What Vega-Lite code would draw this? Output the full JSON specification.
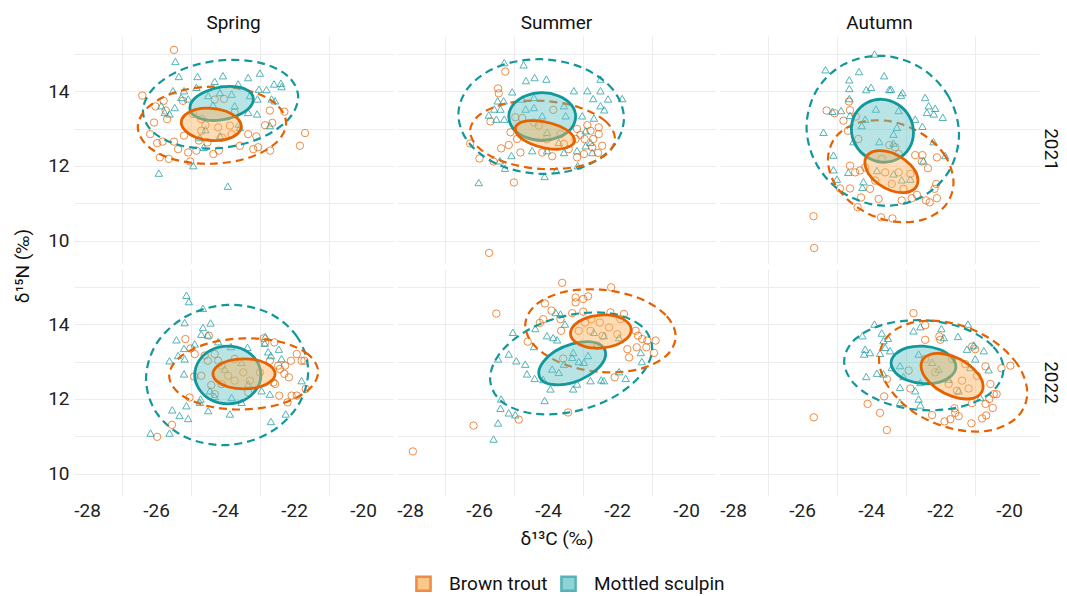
{
"$schema":"https://vega.github.io/schema/vega-lite/v6.json",
"padding":{"left":13,"top":14,"right":2,"bottom":4},
"background":"white",
"data":{"values":[
{"f":"Spring","r":2021,"p":"T","k":"e","o":0,"x":-23.18,"y":13.79},{"f":"Spring","r":2021,"p":"T","k":"e","o":1,"x":-23.3,"y":13.99},{"f":"Spring","r":2021,"p":"T","k":"e","o":2,"x":-23.64,"y":14.11},{"f":"Spring","r":2021,"p":"T","k":"e","o":3,"x":-24.1,"y":14.11},{"f":"Spring","r":2021,"p":"T","k":"e","o":4,"x":-24.56,"y":13.99},{"f":"Spring","r":2021,"p":"T","k":"e","o":5,"x":-24.9,"y":13.79},{"f":"Spring","r":2021,"p":"T","k":"e","o":6,"x":-25.02,"y":13.55},{"f":"Spring","r":2021,"p":"T","k":"e","o":7,"x":-24.9,"y":13.35},{"f":"Spring","r":2021,"p":"T","k":"e","o":8,"x":-24.56,"y":13.23},{"f":"Spring","r":2021,"p":"T","k":"e","o":9,"x":-24.1,"y":13.23},{"f":"Spring","r":2021,"p":"T","k":"e","o":10,"x":-23.64,"y":13.35},{"f":"Spring","r":2021,"p":"T","k":"e","o":11,"x":-23.3,"y":13.55},
{"f":"Spring","r":2021,"p":"B","k":"e","o":0,"x":-23.53,"y":13.06},{"f":"Spring","r":2021,"p":"B","k":"e","o":1,"x":-23.65,"y":13.28},{"f":"Spring","r":2021,"p":"B","k":"e","o":2,"x":-23.97,"y":13.46},{"f":"Spring","r":2021,"p":"B","k":"e","o":3,"x":-24.4,"y":13.54},{"f":"Spring","r":2021,"p":"B","k":"e","o":4,"x":-24.84,"y":13.51},{"f":"Spring","r":2021,"p":"B","k":"e","o":5,"x":-25.15,"y":13.37},{"f":"Spring","r":2021,"p":"B","k":"e","o":6,"x":-25.27,"y":13.16},{"f":"Spring","r":2021,"p":"B","k":"e","o":7,"x":-25.15,"y":12.94},{"f":"Spring","r":2021,"p":"B","k":"e","o":8,"x":-24.84,"y":12.76},{"f":"Spring","r":2021,"p":"B","k":"e","o":9,"x":-24.4,"y":12.68},{"f":"Spring","r":2021,"p":"B","k":"e","o":10,"x":-23.97,"y":12.71},{"f":"Spring","r":2021,"p":"B","k":"e","o":11,"x":-23.65,"y":12.85},
{"f":"Spring","r":2021,"p":"T","k":"d","o":0,"x":-21.88,"y":13.84},{"f":"Spring","r":2021,"p":"T","k":"d","o":1,"x":-22.18,"y":14.4},{"f":"Spring","r":2021,"p":"T","k":"d","o":2,"x":-23.01,"y":14.76},{"f":"Spring","r":2021,"p":"T","k":"d","o":3,"x":-24.13,"y":14.82},{"f":"Spring","r":2021,"p":"T","k":"d","o":4,"x":-25.26,"y":14.57},{"f":"Spring","r":2021,"p":"T","k":"d","o":5,"x":-26.08,"y":14.07},{"f":"Spring","r":2021,"p":"T","k":"d","o":6,"x":-26.38,"y":13.46},{"f":"Spring","r":2021,"p":"T","k":"d","o":7,"x":-26.08,"y":12.9},{"f":"Spring","r":2021,"p":"T","k":"d","o":8,"x":-25.26,"y":12.54},{"f":"Spring","r":2021,"p":"T","k":"d","o":9,"x":-24.13,"y":12.48},{"f":"Spring","r":2021,"p":"T","k":"d","o":10,"x":-23.01,"y":12.73},{"f":"Spring","r":2021,"p":"T","k":"d","o":11,"x":-22.18,"y":13.23},
{"f":"Spring","r":2021,"p":"B","k":"d","o":0,"x":-22.23,"y":13.14},{"f":"Spring","r":2021,"p":"B","k":"d","o":1,"x":-22.52,"y":13.65},{"f":"Spring","r":2021,"p":"B","k":"d","o":2,"x":-23.31,"y":14.01},{"f":"Spring","r":2021,"p":"B","k":"d","o":3,"x":-24.38,"y":14.12},{"f":"Spring","r":2021,"p":"B","k":"d","o":4,"x":-25.46,"y":13.96},{"f":"Spring","r":2021,"p":"B","k":"d","o":5,"x":-26.24,"y":13.56},{"f":"Spring","r":2021,"p":"B","k":"d","o":6,"x":-26.53,"y":13.04},{"f":"Spring","r":2021,"p":"B","k":"d","o":7,"x":-26.24,"y":12.53},{"f":"Spring","r":2021,"p":"B","k":"d","o":8,"x":-25.46,"y":12.17},{"f":"Spring","r":2021,"p":"B","k":"d","o":9,"x":-24.38,"y":12.06},{"f":"Spring","r":2021,"p":"B","k":"d","o":10,"x":-23.31,"y":12.22},{"f":"Spring","r":2021,"p":"B","k":"d","o":11,"x":-22.52,"y":12.62},
{"f":"Summer","r":2021,"p":"T","k":"e","o":0,"x":-23.2,"y":13.32},{"f":"Summer","r":2021,"p":"T","k":"e","o":1,"x":-23.33,"y":13.64},{"f":"Summer","r":2021,"p":"T","k":"e","o":2,"x":-23.69,"y":13.87},{"f":"Summer","r":2021,"p":"T","k":"e","o":3,"x":-24.17,"y":13.96},{"f":"Summer","r":2021,"p":"T","k":"e","o":4,"x":-24.66,"y":13.87},{"f":"Summer","r":2021,"p":"T","k":"e","o":5,"x":-25.01,"y":13.64},{"f":"Summer","r":2021,"p":"T","k":"e","o":6,"x":-25.14,"y":13.32},{"f":"Summer","r":2021,"p":"T","k":"e","o":7,"x":-25.01,"y":13.0},{"f":"Summer","r":2021,"p":"T","k":"e","o":8,"x":-24.66,"y":12.77},{"f":"Summer","r":2021,"p":"T","k":"e","o":9,"x":-24.17,"y":12.68},{"f":"Summer","r":2021,"p":"T","k":"e","o":10,"x":-23.69,"y":12.77},{"f":"Summer","r":2021,"p":"T","k":"e","o":11,"x":-23.33,"y":13.0},
{"f":"Summer","r":2021,"p":"B","k":"e","o":0,"x":-23.23,"y":12.68},{"f":"Summer","r":2021,"p":"B","k":"e","o":1,"x":-23.35,"y":12.88},{"f":"Summer","r":2021,"p":"B","k":"e","o":2,"x":-23.66,"y":13.06},{"f":"Summer","r":2021,"p":"B","k":"e","o":3,"x":-24.09,"y":13.18},{"f":"Summer","r":2021,"p":"B","k":"e","o":4,"x":-24.52,"y":13.21},{"f":"Summer","r":2021,"p":"B","k":"e","o":5,"x":-24.84,"y":13.14},{"f":"Summer","r":2021,"p":"B","k":"e","o":6,"x":-24.95,"y":12.98},{"f":"Summer","r":2021,"p":"B","k":"e","o":7,"x":-24.84,"y":12.79},{"f":"Summer","r":2021,"p":"B","k":"e","o":8,"x":-24.52,"y":12.6},{"f":"Summer","r":2021,"p":"B","k":"e","o":9,"x":-24.09,"y":12.48},{"f":"Summer","r":2021,"p":"B","k":"e","o":10,"x":-23.66,"y":12.45},{"f":"Summer","r":2021,"p":"B","k":"e","o":11,"x":-23.35,"y":12.53},
{"f":"Summer","r":2021,"p":"T","k":"d","o":0,"x":-21.8,"y":13.27},{"f":"Summer","r":2021,"p":"T","k":"d","o":1,"x":-22.12,"y":14.04},{"f":"Summer","r":2021,"p":"T","k":"d","o":2,"x":-23.0,"y":14.62},{"f":"Summer","r":2021,"p":"T","k":"d","o":3,"x":-24.2,"y":14.85},{"f":"Summer","r":2021,"p":"T","k":"d","o":4,"x":-25.4,"y":14.67},{"f":"Summer","r":2021,"p":"T","k":"d","o":5,"x":-26.28,"y":14.13},{"f":"Summer","r":2021,"p":"T","k":"d","o":6,"x":-26.6,"y":13.37},{"f":"Summer","r":2021,"p":"T","k":"d","o":7,"x":-26.28,"y":12.6},{"f":"Summer","r":2021,"p":"T","k":"d","o":8,"x":-25.4,"y":12.02},{"f":"Summer","r":2021,"p":"T","k":"d","o":9,"x":-24.2,"y":11.79},{"f":"Summer","r":2021,"p":"T","k":"d","o":10,"x":-23.0,"y":11.97},{"f":"Summer","r":2021,"p":"T","k":"d","o":11,"x":-22.12,"y":12.51},
{"f":"Summer","r":2021,"p":"B","k":"d","o":0,"x":-22.06,"y":12.73},{"f":"Summer","r":2021,"p":"B","k":"d","o":1,"x":-22.34,"y":13.2},{"f":"Summer","r":2021,"p":"B","k":"d","o":2,"x":-23.11,"y":13.57},{"f":"Summer","r":2021,"p":"B","k":"d","o":3,"x":-24.16,"y":13.74},{"f":"Summer","r":2021,"p":"B","k":"d","o":4,"x":-25.21,"y":13.67},{"f":"Summer","r":2021,"p":"B","k":"d","o":5,"x":-25.98,"y":13.37},{"f":"Summer","r":2021,"p":"B","k":"d","o":6,"x":-26.26,"y":12.93},{"f":"Summer","r":2021,"p":"B","k":"d","o":7,"x":-25.98,"y":12.46},{"f":"Summer","r":2021,"p":"B","k":"d","o":8,"x":-25.21,"y":12.09},{"f":"Summer","r":2021,"p":"B","k":"d","o":9,"x":-24.16,"y":11.92},{"f":"Summer","r":2021,"p":"B","k":"d","o":10,"x":-23.11,"y":11.99},{"f":"Summer","r":2021,"p":"B","k":"d","o":11,"x":-22.34,"y":12.29},
{"f":"Autumn","r":2021,"p":"T","k":"e","o":0,"x":-22.77,"y":12.89},{"f":"Autumn","r":2021,"p":"T","k":"e","o":1,"x":-22.89,"y":13.32},{"f":"Autumn","r":2021,"p":"T","k":"e","o":2,"x":-23.22,"y":13.64},{"f":"Autumn","r":2021,"p":"T","k":"e","o":3,"x":-23.67,"y":13.78},{"f":"Autumn","r":2021,"p":"T","k":"e","o":4,"x":-24.12,"y":13.69},{"f":"Autumn","r":2021,"p":"T","k":"e","o":5,"x":-24.45,"y":13.4},{"f":"Autumn","r":2021,"p":"T","k":"e","o":6,"x":-24.57,"y":12.99},{"f":"Autumn","r":2021,"p":"T","k":"e","o":7,"x":-24.45,"y":12.56},{"f":"Autumn","r":2021,"p":"T","k":"e","o":8,"x":-24.12,"y":12.24},{"f":"Autumn","r":2021,"p":"T","k":"e","o":9,"x":-23.67,"y":12.1},{"f":"Autumn","r":2021,"p":"T","k":"e","o":10,"x":-23.22,"y":12.19},{"f":"Autumn","r":2021,"p":"T","k":"e","o":11,"x":-22.89,"y":12.48},
{"f":"Autumn","r":2021,"p":"B","k":"e","o":0,"x":-22.64,"y":11.61},{"f":"Autumn","r":2021,"p":"B","k":"e","o":1,"x":-22.74,"y":11.9},{"f":"Autumn","r":2021,"p":"B","k":"e","o":2,"x":-23.03,"y":12.17},{"f":"Autumn","r":2021,"p":"B","k":"e","o":3,"x":-23.41,"y":12.36},{"f":"Autumn","r":2021,"p":"B","k":"e","o":4,"x":-23.8,"y":12.41},{"f":"Autumn","r":2021,"p":"B","k":"e","o":5,"x":-24.08,"y":12.31},{"f":"Autumn","r":2021,"p":"B","k":"e","o":6,"x":-24.18,"y":12.09},{"f":"Autumn","r":2021,"p":"B","k":"e","o":7,"x":-24.08,"y":11.8},{"f":"Autumn","r":2021,"p":"B","k":"e","o":8,"x":-23.8,"y":11.53},{"f":"Autumn","r":2021,"p":"B","k":"e","o":9,"x":-23.41,"y":11.34},{"f":"Autumn","r":2021,"p":"B","k":"e","o":10,"x":-23.03,"y":11.29},{"f":"Autumn","r":2021,"p":"B","k":"e","o":11,"x":-22.74,"y":11.39},
{"f":"Autumn","r":2021,"p":"T","k":"d","o":0,"x":-21.45,"y":12.84},{"f":"Autumn","r":2021,"p":"T","k":"d","o":1,"x":-21.75,"y":13.85},{"f":"Autumn","r":2021,"p":"T","k":"d","o":2,"x":-22.56,"y":14.62},{"f":"Autumn","r":2021,"p":"T","k":"d","o":3,"x":-23.66,"y":14.94},{"f":"Autumn","r":2021,"p":"T","k":"d","o":4,"x":-24.77,"y":14.72},{"f":"Autumn","r":2021,"p":"T","k":"d","o":5,"x":-25.57,"y":14.03},{"f":"Autumn","r":2021,"p":"T","k":"d","o":6,"x":-25.87,"y":13.04},{"f":"Autumn","r":2021,"p":"T","k":"d","o":7,"x":-25.57,"y":12.03},{"f":"Autumn","r":2021,"p":"T","k":"d","o":8,"x":-24.77,"y":11.26},{"f":"Autumn","r":2021,"p":"T","k":"d","o":9,"x":-23.66,"y":10.94},{"f":"Autumn","r":2021,"p":"T","k":"d","o":10,"x":-22.56,"y":11.16},{"f":"Autumn","r":2021,"p":"T","k":"d","o":11,"x":-21.75,"y":11.85},
{"f":"Autumn","r":2021,"p":"B","k":"d","o":0,"x":-21.61,"y":11.56},{"f":"Autumn","r":2021,"p":"B","k":"d","o":1,"x":-21.85,"y":12.27},{"f":"Autumn","r":2021,"p":"B","k":"d","o":2,"x":-22.52,"y":12.86},{"f":"Autumn","r":2021,"p":"B","k":"d","o":3,"x":-23.43,"y":13.19},{"f":"Autumn","r":2021,"p":"B","k":"d","o":4,"x":-24.34,"y":13.16},{"f":"Autumn","r":2021,"p":"B","k":"d","o":5,"x":-25.01,"y":12.79},{"f":"Autumn","r":2021,"p":"B","k":"d","o":6,"x":-25.25,"y":12.16},{"f":"Autumn","r":2021,"p":"B","k":"d","o":7,"x":-25.01,"y":11.46},{"f":"Autumn","r":2021,"p":"B","k":"d","o":8,"x":-24.34,"y":10.86},{"f":"Autumn","r":2021,"p":"B","k":"d","o":9,"x":-23.43,"y":10.53},{"f":"Autumn","r":2021,"p":"B","k":"d","o":10,"x":-22.52,"y":10.56},{"f":"Autumn","r":2021,"p":"B","k":"d","o":11,"x":-21.85,"y":10.94},
{"f":"Spring","r":2022,"p":"T","k":"e","o":0,"x":-22.96,"y":12.64},{"f":"Spring","r":2022,"p":"T","k":"e","o":1,"x":-23.09,"y":13.03},{"f":"Spring","r":2022,"p":"T","k":"e","o":2,"x":-23.44,"y":13.31},{"f":"Spring","r":2022,"p":"T","k":"e","o":3,"x":-23.92,"y":13.41},{"f":"Spring","r":2022,"p":"T","k":"e","o":4,"x":-24.4,"y":13.31},{"f":"Spring","r":2022,"p":"T","k":"e","o":5,"x":-24.75,"y":13.03},{"f":"Spring","r":2022,"p":"T","k":"e","o":6,"x":-24.88,"y":12.64},{"f":"Spring","r":2022,"p":"T","k":"e","o":7,"x":-24.75,"y":12.26},{"f":"Spring","r":2022,"p":"T","k":"e","o":8,"x":-24.4,"y":11.97},{"f":"Spring","r":2022,"p":"T","k":"e","o":9,"x":-23.92,"y":11.87},{"f":"Spring","r":2022,"p":"T","k":"e","o":10,"x":-23.44,"y":11.97},{"f":"Spring","r":2022,"p":"T","k":"e","o":11,"x":-23.09,"y":12.26},
{"f":"Spring","r":2022,"p":"B","k":"e","o":0,"x":-22.55,"y":12.67},{"f":"Spring","r":2022,"p":"B","k":"e","o":1,"x":-22.67,"y":12.87},{"f":"Spring","r":2022,"p":"B","k":"e","o":2,"x":-23.0,"y":13.02},{"f":"Spring","r":2022,"p":"B","k":"e","o":3,"x":-23.45,"y":13.07},{"f":"Spring","r":2022,"p":"B","k":"e","o":4,"x":-23.9,"y":13.02},{"f":"Spring","r":2022,"p":"B","k":"e","o":5,"x":-24.23,"y":12.87},{"f":"Spring","r":2022,"p":"B","k":"e","o":6,"x":-24.35,"y":12.67},{"f":"Spring","r":2022,"p":"B","k":"e","o":7,"x":-24.23,"y":12.47},{"f":"Spring","r":2022,"p":"B","k":"e","o":8,"x":-23.9,"y":12.32},{"f":"Spring","r":2022,"p":"B","k":"e","o":9,"x":-23.45,"y":12.27},{"f":"Spring","r":2022,"p":"B","k":"e","o":10,"x":-23.0,"y":12.32},{"f":"Spring","r":2022,"p":"B","k":"e","o":11,"x":-22.67,"y":12.47},
{"f":"Spring","r":2022,"p":"T","k":"d","o":0,"x":-21.59,"y":12.74},{"f":"Spring","r":2022,"p":"T","k":"d","o":1,"x":-21.91,"y":13.66},{"f":"Spring","r":2022,"p":"T","k":"d","o":2,"x":-22.77,"y":14.31},{"f":"Spring","r":2022,"p":"T","k":"d","o":3,"x":-23.94,"y":14.51},{"f":"Spring","r":2022,"p":"T","k":"d","o":4,"x":-25.12,"y":14.21},{"f":"Spring","r":2022,"p":"T","k":"d","o":5,"x":-25.98,"y":13.49},{"f":"Spring","r":2022,"p":"T","k":"d","o":6,"x":-26.29,"y":12.54},{"f":"Spring","r":2022,"p":"T","k":"d","o":7,"x":-25.98,"y":11.62},{"f":"Spring","r":2022,"p":"T","k":"d","o":8,"x":-25.12,"y":10.97},{"f":"Spring","r":2022,"p":"T","k":"d","o":9,"x":-23.94,"y":10.77},{"f":"Spring","r":2022,"p":"T","k":"d","o":10,"x":-22.77,"y":11.07},{"f":"Spring","r":2022,"p":"T","k":"d","o":11,"x":-21.91,"y":11.79},
{"f":"Spring","r":2022,"p":"B","k":"d","o":0,"x":-21.3,"y":12.72},{"f":"Spring","r":2022,"p":"B","k":"d","o":1,"x":-21.59,"y":13.19},{"f":"Spring","r":2022,"p":"B","k":"d","o":2,"x":-22.38,"y":13.52},{"f":"Spring","r":2022,"p":"B","k":"d","o":3,"x":-23.46,"y":13.62},{"f":"Spring","r":2022,"p":"B","k":"d","o":4,"x":-24.54,"y":13.47},{"f":"Spring","r":2022,"p":"B","k":"d","o":5,"x":-25.33,"y":13.1},{"f":"Spring","r":2022,"p":"B","k":"d","o":6,"x":-25.62,"y":12.62},{"f":"Spring","r":2022,"p":"B","k":"d","o":7,"x":-25.33,"y":12.15},{"f":"Spring","r":2022,"p":"B","k":"d","o":8,"x":-24.54,"y":11.82},{"f":"Spring","r":2022,"p":"B","k":"d","o":9,"x":-23.46,"y":11.72},{"f":"Spring","r":2022,"p":"B","k":"d","o":10,"x":-22.38,"y":11.87},{"f":"Spring","r":2022,"p":"B","k":"d","o":11,"x":-21.59,"y":12.24},
{"f":"Summer","r":2022,"p":"T","k":"e","o":0,"x":-22.33,"y":13.2},{"f":"Summer","r":2022,"p":"T","k":"e","o":1,"x":-22.46,"y":13.43},{"f":"Summer","r":2022,"p":"T","k":"e","o":2,"x":-22.82,"y":13.53},{"f":"Summer","r":2022,"p":"T","k":"e","o":3,"x":-23.3,"y":13.47},{"f":"Summer","r":2022,"p":"T","k":"e","o":4,"x":-23.79,"y":13.28},{"f":"Summer","r":2022,"p":"T","k":"e","o":5,"x":-24.14,"y":12.99},{"f":"Summer","r":2022,"p":"T","k":"e","o":6,"x":-24.27,"y":12.7},{"f":"Summer","r":2022,"p":"T","k":"e","o":7,"x":-24.14,"y":12.47},{"f":"Summer","r":2022,"p":"T","k":"e","o":8,"x":-23.79,"y":12.38},{"f":"Summer","r":2022,"p":"T","k":"e","o":9,"x":-23.3,"y":12.43},{"f":"Summer","r":2022,"p":"T","k":"e","o":10,"x":-22.82,"y":12.63},{"f":"Summer","r":2022,"p":"T","k":"e","o":11,"x":-22.46,"y":12.91},
{"f":"Summer","r":2022,"p":"B","k":"e","o":0,"x":-21.59,"y":13.85},{"f":"Summer","r":2022,"p":"B","k":"e","o":1,"x":-21.71,"y":14.06},{"f":"Summer","r":2022,"p":"B","k":"e","o":2,"x":-22.03,"y":14.21},{"f":"Summer","r":2022,"p":"B","k":"e","o":3,"x":-22.47,"y":14.24},{"f":"Summer","r":2022,"p":"B","k":"e","o":4,"x":-22.91,"y":14.16},{"f":"Summer","r":2022,"p":"B","k":"e","o":5,"x":-23.23,"y":13.98},{"f":"Summer","r":2022,"p":"B","k":"e","o":6,"x":-23.35,"y":13.75},{"f":"Summer","r":2022,"p":"B","k":"e","o":7,"x":-23.23,"y":13.54},{"f":"Summer","r":2022,"p":"B","k":"e","o":8,"x":-22.91,"y":13.39},{"f":"Summer","r":2022,"p":"B","k":"e","o":9,"x":-22.47,"y":13.36},{"f":"Summer","r":2022,"p":"B","k":"e","o":10,"x":-22.03,"y":13.44},{"f":"Summer","r":2022,"p":"B","k":"e","o":11,"x":-21.71,"y":13.62},
{"f":"Summer","r":2022,"p":"T","k":"d","o":0,"x":-20.98,"y":13.35},{"f":"Summer","r":2022,"p":"T","k":"d","o":1,"x":-21.3,"y":13.95},{"f":"Summer","r":2022,"p":"T","k":"d","o":2,"x":-22.16,"y":14.28},{"f":"Summer","r":2022,"p":"T","k":"d","o":3,"x":-23.33,"y":14.25},{"f":"Summer","r":2022,"p":"T","k":"d","o":4,"x":-24.51,"y":13.88},{"f":"Summer","r":2022,"p":"T","k":"d","o":5,"x":-25.37,"y":13.25},{"f":"Summer","r":2022,"p":"T","k":"d","o":6,"x":-25.68,"y":12.55},{"f":"Summer","r":2022,"p":"T","k":"d","o":7,"x":-25.37,"y":11.95},{"f":"Summer","r":2022,"p":"T","k":"d","o":8,"x":-24.51,"y":11.62},{"f":"Summer","r":2022,"p":"T","k":"d","o":9,"x":-23.33,"y":11.65},{"f":"Summer","r":2022,"p":"T","k":"d","o":10,"x":-22.16,"y":12.02},{"f":"Summer","r":2022,"p":"T","k":"d","o":11,"x":-21.3,"y":12.65},
{"f":"Summer","r":2022,"p":"B","k":"d","o":0,"x":-20.3,"y":13.67},{"f":"Summer","r":2022,"p":"B","k":"d","o":1,"x":-20.59,"y":14.24},{"f":"Summer","r":2022,"p":"B","k":"d","o":2,"x":-21.39,"y":14.7},{"f":"Summer","r":2022,"p":"B","k":"d","o":3,"x":-22.48,"y":14.92},{"f":"Summer","r":2022,"p":"B","k":"d","o":4,"x":-23.57,"y":14.85},{"f":"Summer","r":2022,"p":"B","k":"d","o":5,"x":-24.37,"y":14.5},{"f":"Summer","r":2022,"p":"B","k":"d","o":6,"x":-24.66,"y":13.97},{"f":"Summer","r":2022,"p":"B","k":"d","o":7,"x":-24.37,"y":13.4},{"f":"Summer","r":2022,"p":"B","k":"d","o":8,"x":-23.57,"y":12.94},{"f":"Summer","r":2022,"p":"B","k":"d","o":9,"x":-22.48,"y":12.72},{"f":"Summer","r":2022,"p":"B","k":"d","o":10,"x":-21.39,"y":12.79},{"f":"Summer","r":2022,"p":"B","k":"d","o":11,"x":-20.59,"y":13.14},
{"f":"Autumn","r":2022,"p":"T","k":"e","o":0,"x":-21.54,"y":12.86},{"f":"Autumn","r":2022,"p":"T","k":"e","o":1,"x":-21.67,"y":13.12},{"f":"Autumn","r":2022,"p":"T","k":"e","o":2,"x":-22.01,"y":13.32},{"f":"Autumn","r":2022,"p":"T","k":"e","o":3,"x":-22.48,"y":13.41},{"f":"Autumn","r":2022,"p":"T","k":"e","o":4,"x":-22.95,"y":13.37},{"f":"Autumn","r":2022,"p":"T","k":"e","o":5,"x":-23.29,"y":13.2},{"f":"Autumn","r":2022,"p":"T","k":"e","o":6,"x":-23.42,"y":12.96},{"f":"Autumn","r":2022,"p":"T","k":"e","o":7,"x":-23.29,"y":12.7},{"f":"Autumn","r":2022,"p":"T","k":"e","o":8,"x":-22.95,"y":12.5},{"f":"Autumn","r":2022,"p":"T","k":"e","o":9,"x":-22.48,"y":12.41},{"f":"Autumn","r":2022,"p":"T","k":"e","o":10,"x":-22.01,"y":12.45},{"f":"Autumn","r":2022,"p":"T","k":"e","o":11,"x":-21.67,"y":12.62},
{"f":"Autumn","r":2022,"p":"B","k":"e","o":0,"x":-20.75,"y":12.33},{"f":"Autumn","r":2022,"p":"B","k":"e","o":1,"x":-20.87,"y":12.64},{"f":"Autumn","r":2022,"p":"B","k":"e","o":2,"x":-21.2,"y":12.94},{"f":"Autumn","r":2022,"p":"B","k":"e","o":3,"x":-21.65,"y":13.15},{"f":"Autumn","r":2022,"p":"B","k":"e","o":4,"x":-22.1,"y":13.22},{"f":"Autumn","r":2022,"p":"B","k":"e","o":5,"x":-22.43,"y":13.12},{"f":"Autumn","r":2022,"p":"B","k":"e","o":6,"x":-22.55,"y":12.89},{"f":"Autumn","r":2022,"p":"B","k":"e","o":7,"x":-22.43,"y":12.58},{"f":"Autumn","r":2022,"p":"B","k":"e","o":8,"x":-22.1,"y":12.28},{"f":"Autumn","r":2022,"p":"B","k":"e","o":9,"x":-21.65,"y":12.07},{"f":"Autumn","r":2022,"p":"B","k":"e","o":10,"x":-21.2,"y":12.0},{"f":"Autumn","r":2022,"p":"B","k":"e","o":11,"x":-20.87,"y":12.1},
{"f":"Autumn","r":2022,"p":"T","k":"d","o":0,"x":-20.16,"y":12.8},{"f":"Autumn","r":2022,"p":"T","k":"d","o":1,"x":-20.47,"y":13.41},{"f":"Autumn","r":2022,"p":"T","k":"d","o":2,"x":-21.32,"y":13.89},{"f":"Autumn","r":2022,"p":"T","k":"d","o":3,"x":-22.47,"y":14.1},{"f":"Autumn","r":2022,"p":"T","k":"d","o":4,"x":-23.63,"y":13.99},{"f":"Autumn","r":2022,"p":"T","k":"d","o":5,"x":-24.47,"y":13.59},{"f":"Autumn","r":2022,"p":"T","k":"d","o":6,"x":-24.78,"y":13.0},{"f":"Autumn","r":2022,"p":"T","k":"d","o":7,"x":-24.47,"y":12.39},{"f":"Autumn","r":2022,"p":"T","k":"d","o":8,"x":-23.63,"y":11.91},{"f":"Autumn","r":2022,"p":"T","k":"d","o":9,"x":-22.47,"y":11.7},{"f":"Autumn","r":2022,"p":"T","k":"d","o":10,"x":-21.32,"y":11.81},{"f":"Autumn","r":2022,"p":"T","k":"d","o":11,"x":-20.47,"y":12.21},
{"f":"Autumn","r":2022,"p":"B","k":"d","o":0,"x":-19.47,"y":12.16},{"f":"Autumn","r":2022,"p":"B","k":"d","o":1,"x":-19.76,"y":12.93},{"f":"Autumn","r":2022,"p":"B","k":"d","o":2,"x":-20.55,"y":13.61},{"f":"Autumn","r":2022,"p":"B","k":"d","o":3,"x":-21.62,"y":14.02},{"f":"Autumn","r":2022,"p":"B","k":"d","o":4,"x":-22.7,"y":14.06},{"f":"Autumn","r":2022,"p":"B","k":"d","o":5,"x":-23.48,"y":13.71},{"f":"Autumn","r":2022,"p":"B","k":"d","o":6,"x":-23.77,"y":13.06},{"f":"Autumn","r":2022,"p":"B","k":"d","o":7,"x":-23.48,"y":12.3},{"f":"Autumn","r":2022,"p":"B","k":"d","o":8,"x":-22.7,"y":11.61},{"f":"Autumn","r":2022,"p":"B","k":"d","o":9,"x":-21.62,"y":11.2},{"f":"Autumn","r":2022,"p":"B","k":"d","o":10,"x":-20.55,"y":11.16},{"f":"Autumn","r":2022,"p":"B","k":"d","o":11,"x":-19.76,"y":11.52},
{"f":"Spring","r":2021,"p":"B","x":-25.48,"y":15.1},{"f":"Spring","r":2021,"p":"B","x":-26.4,"y":13.88},{"f":"Spring","r":2021,"p":"B","x":-26.02,"y":13.59},{"f":"Spring","r":2021,"p":"B","x":-25.78,"y":13.74},{"f":"Spring","r":2021,"p":"B","x":-25.72,"y":13.48},{"f":"Spring","r":2021,"p":"B","x":-25.68,"y":13.25},{"f":"Spring","r":2021,"p":"B","x":-26.06,"y":13.16},{"f":"Spring","r":2021,"p":"B","x":-26.17,"y":12.85},{"f":"Spring","r":2021,"p":"B","x":-25.97,"y":12.61},{"f":"Spring","r":2021,"p":"B","x":-25.81,"y":12.65},{"f":"Spring","r":2021,"p":"B","x":-25.89,"y":12.23},{"f":"Spring","r":2021,"p":"B","x":-25.63,"y":12.19},{"f":"Spring","r":2021,"p":"B","x":-25.48,"y":12.65},{"f":"Spring","r":2021,"p":"B","x":-25.36,"y":12.45},{"f":"Spring","r":2021,"p":"B","x":-25.19,"y":12.81},{"f":"Spring","r":2021,"p":"B","x":-25.07,"y":12.36},{"f":"Spring","r":2021,"p":"B","x":-25.01,"y":12.12},{"f":"Spring","r":2021,"p":"B","x":-24.83,"y":12.41},{"f":"Spring","r":2021,"p":"B","x":-24.76,"y":12.68},{"f":"Spring","r":2021,"p":"B","x":-24.69,"y":12.94},{"f":"Spring","r":2021,"p":"B","x":-24.57,"y":13.09},{"f":"Spring","r":2021,"p":"B","x":-24.51,"y":12.63},{"f":"Spring","r":2021,"p":"B","x":-24.34,"y":12.32},{"f":"Spring","r":2021,"p":"B","x":-24.18,"y":12.41},{"f":"Spring","r":2021,"p":"B","x":-24.3,"y":13.77},{"f":"Spring","r":2021,"p":"B","x":-24.03,"y":13.79},{"f":"Spring","r":2021,"p":"B","x":-24.09,"y":12.76},{"f":"Spring","r":2021,"p":"B","x":-23.81,"y":12.85},{"f":"Spring","r":2021,"p":"B","x":-23.57,"y":12.54},{"f":"Spring","r":2021,"p":"B","x":-23.33,"y":12.85},{"f":"Spring","r":2021,"p":"B","x":-23.18,"y":12.45},{"f":"Spring","r":2021,"p":"B","x":-23.09,"y":12.79},{"f":"Spring","r":2021,"p":"B","x":-23.04,"y":12.5},{"f":"Spring","r":2021,"p":"B","x":-22.84,"y":13.09},{"f":"Spring","r":2021,"p":"B","x":-22.69,"y":12.41},{"f":"Spring","r":2021,"p":"B","x":-22.63,"y":13.15},{"f":"Spring","r":2021,"p":"B","x":-22.7,"y":13.48},{"f":"Spring","r":2021,"p":"B","x":-22.28,"y":13.45},{"f":"Spring","r":2021,"p":"B","x":-21.83,"y":12.54},{"f":"Spring","r":2021,"p":"B","x":-21.68,"y":12.88},{"f":"Spring","r":2021,"p":"B","x":-25.22,"y":13.74},{"f":"Spring","r":2021,"p":"B","x":-24.93,"y":13.39},{"f":"Spring","r":2021,"p":"B","x":-23.72,"y":13.43},{"f":"Spring","r":2021,"p":"B","x":-24.69,"y":13.25},{"f":"Spring","r":2021,"p":"B","x":-24.2,"y":13.03},{"f":"Spring","r":2021,"p":"B","x":-23.86,"y":13.08},
{"f":"Spring","r":2021,"p":"T","x":-25.44,"y":14.79},{"f":"Spring","r":2021,"p":"T","x":-25.34,"y":14.39},{"f":"Spring","r":2021,"p":"T","x":-24.8,"y":14.39},{"f":"Spring","r":2021,"p":"T","x":-24.3,"y":14.26},{"f":"Spring","r":2021,"p":"T","x":-24.06,"y":14.41},{"f":"Spring","r":2021,"p":"T","x":-23.62,"y":14.19},{"f":"Spring","r":2021,"p":"T","x":-23.33,"y":14.36},{"f":"Spring","r":2021,"p":"T","x":-22.99,"y":14.48},{"f":"Spring","r":2021,"p":"T","x":-23.02,"y":14.05},{"f":"Spring","r":2021,"p":"T","x":-22.8,"y":14.04},{"f":"Spring","r":2021,"p":"T","x":-22.58,"y":14.19},{"f":"Spring","r":2021,"p":"T","x":-22.38,"y":14.21},{"f":"Spring","r":2021,"p":"T","x":-22.36,"y":14.12},{"f":"Spring","r":2021,"p":"T","x":-22.65,"y":13.79},{"f":"Spring","r":2021,"p":"T","x":-22.55,"y":13.74},{"f":"Spring","r":2021,"p":"T","x":-23.06,"y":13.79},{"f":"Spring","r":2021,"p":"T","x":-23.28,"y":13.88},{"f":"Spring","r":2021,"p":"T","x":-25.51,"y":14.01},{"f":"Spring","r":2021,"p":"T","x":-25.27,"y":13.83},{"f":"Spring","r":2021,"p":"T","x":-25.19,"y":14.01},{"f":"Spring","r":2021,"p":"T","x":-25.07,"y":13.79},{"f":"Spring","r":2021,"p":"T","x":-25.85,"y":13.61},{"f":"Spring","r":2021,"p":"T","x":-25.75,"y":13.43},{"f":"Spring","r":2021,"p":"T","x":-25.61,"y":13.39},{"f":"Spring","r":2021,"p":"T","x":-25.46,"y":13.56},{"f":"Spring","r":2021,"p":"T","x":-24.83,"y":14.1},{"f":"Spring","r":2021,"p":"T","x":-24.49,"y":13.88},{"f":"Spring","r":2021,"p":"T","x":-24.15,"y":13.96},{"f":"Spring","r":2021,"p":"T","x":-23.81,"y":13.92},{"f":"Spring","r":2021,"p":"T","x":-23.72,"y":13.61},{"f":"Spring","r":2021,"p":"T","x":-24.35,"y":13.63},{"f":"Spring","r":2021,"p":"T","x":-23.33,"y":13.43},{"f":"Spring","r":2021,"p":"T","x":-23.6,"y":13.12},{"f":"Spring","r":2021,"p":"T","x":-23.57,"y":13.03},{"f":"Spring","r":2021,"p":"T","x":-22.7,"y":13.08},{"f":"Spring","r":2021,"p":"T","x":-23.07,"y":13.39},{"f":"Spring","r":2021,"p":"T","x":-24.62,"y":12.5},{"f":"Spring","r":2021,"p":"T","x":-24.73,"y":12.76},{"f":"Spring","r":2021,"p":"T","x":-24.15,"y":12.81},{"f":"Spring","r":2021,"p":"T","x":-25.92,"y":11.81},{"f":"Spring","r":2021,"p":"T","x":-24.92,"y":12.01},{"f":"Spring","r":2021,"p":"T","x":-23.92,"y":11.46},{"f":"Spring","r":2021,"p":"T","x":-24.57,"y":12.97},
{"f":"Summer","r":2021,"p":"B","x":-25.24,"y":14.52},{"f":"Summer","r":2021,"p":"B","x":-25.45,"y":14.07},{"f":"Summer","r":2021,"p":"B","x":-25.43,"y":13.94},{"f":"Summer","r":2021,"p":"B","x":-25.67,"y":13.19},{"f":"Summer","r":2021,"p":"B","x":-26.26,"y":12.6},{"f":"Summer","r":2021,"p":"B","x":-25.99,"y":12.2},{"f":"Summer","r":2021,"p":"B","x":-25.58,"y":12.12},{"f":"Summer","r":2021,"p":"B","x":-25.36,"y":12.47},{"f":"Summer","r":2021,"p":"B","x":-25.14,"y":12.56},{"f":"Summer","r":2021,"p":"B","x":-24.99,"y":11.56},{"f":"Summer","r":2021,"p":"B","x":-25.71,"y":9.68},{"f":"Summer","r":2021,"p":"B","x":-25.09,"y":12.9},{"f":"Summer","r":2021,"p":"B","x":-24.9,"y":12.72},{"f":"Summer","r":2021,"p":"B","x":-24.8,"y":12.36},{"f":"Summer","r":2021,"p":"B","x":-24.95,"y":13.3},{"f":"Summer","r":2021,"p":"B","x":-24.75,"y":13.28},{"f":"Summer","r":2021,"p":"B","x":-24.41,"y":13.16},{"f":"Summer","r":2021,"p":"B","x":-24.27,"y":13.08},{"f":"Summer","r":2021,"p":"B","x":-23.85,"y":13.5},{"f":"Summer","r":2021,"p":"B","x":-24.03,"y":12.72},{"f":"Summer","r":2021,"p":"B","x":-24.17,"y":12.36},{"f":"Summer","r":2021,"p":"B","x":-23.88,"y":12.26},{"f":"Summer","r":2021,"p":"B","x":-23.54,"y":12.59},{"f":"Summer","r":2021,"p":"B","x":-23.4,"y":12.45},{"f":"Summer","r":2021,"p":"B","x":-23.16,"y":12.99},{"f":"Summer","r":2021,"p":"B","x":-23.06,"y":12.83},{"f":"Summer","r":2021,"p":"B","x":-22.86,"y":13.09},{"f":"Summer","r":2021,"p":"B","x":-22.77,"y":12.94},{"f":"Summer","r":2021,"p":"B","x":-22.69,"y":12.72},{"f":"Summer","r":2021,"p":"B","x":-22.53,"y":13.03},{"f":"Summer","r":2021,"p":"B","x":-22.53,"y":12.85},{"f":"Summer","r":2021,"p":"B","x":-22.43,"y":12.54},{"f":"Summer","r":2021,"p":"B","x":-22.55,"y":12.35},{"f":"Summer","r":2021,"p":"B","x":-22.96,"y":12.32},{"f":"Summer","r":2021,"p":"B","x":-23.16,"y":12.23},{"f":"Summer","r":2021,"p":"B","x":-22.72,"y":12.5},{"f":"Summer","r":2021,"p":"B","x":-22.94,"y":12.72},{"f":"Summer","r":2021,"p":"B","x":-23.64,"y":12.85},{"f":"Summer","r":2021,"p":"B","x":-23.2,"y":12.72},
{"f":"Summer","r":2021,"p":"T","x":-25.27,"y":14.76},{"f":"Summer","r":2021,"p":"T","x":-24.71,"y":14.7},{"f":"Summer","r":2021,"p":"T","x":-24.64,"y":14.28},{"f":"Summer","r":2021,"p":"T","x":-24.39,"y":14.36},{"f":"Summer","r":2021,"p":"T","x":-24.05,"y":14.32},{"f":"Summer","r":2021,"p":"T","x":-22.48,"y":14.32},{"f":"Summer","r":2021,"p":"T","x":-23.25,"y":14.01},{"f":"Summer","r":2021,"p":"T","x":-22.86,"y":14.01},{"f":"Summer","r":2021,"p":"T","x":-22.48,"y":14.01},{"f":"Summer","r":2021,"p":"T","x":-22.69,"y":13.8},{"f":"Summer","r":2021,"p":"T","x":-22.26,"y":13.79},{"f":"Summer","r":2021,"p":"T","x":-21.85,"y":13.8},{"f":"Summer","r":2021,"p":"T","x":-22.48,"y":13.61},{"f":"Summer","r":2021,"p":"T","x":-22.37,"y":13.5},{"f":"Summer","r":2021,"p":"T","x":-23.01,"y":13.34},{"f":"Summer","r":2021,"p":"T","x":-22.67,"y":13.28},{"f":"Summer","r":2021,"p":"T","x":-25.04,"y":13.98},{"f":"Summer","r":2021,"p":"T","x":-25.29,"y":13.74},{"f":"Summer","r":2021,"p":"T","x":-25.46,"y":13.74},{"f":"Summer","r":2021,"p":"T","x":-25.38,"y":13.52},{"f":"Summer","r":2021,"p":"T","x":-25.56,"y":13.52},{"f":"Summer","r":2021,"p":"T","x":-25.72,"y":13.36},{"f":"Summer","r":2021,"p":"T","x":-25.5,"y":13.25},{"f":"Summer","r":2021,"p":"T","x":-25.27,"y":13.25},{"f":"Summer","r":2021,"p":"T","x":-24.75,"y":13.79},{"f":"Summer","r":2021,"p":"T","x":-24.41,"y":13.83},{"f":"Summer","r":2021,"p":"T","x":-24.65,"y":13.52},{"f":"Summer","r":2021,"p":"T","x":-24.41,"y":13.56},{"f":"Summer","r":2021,"p":"T","x":-24.17,"y":13.34},{"f":"Summer","r":2021,"p":"T","x":-23.54,"y":13.61},{"f":"Summer","r":2021,"p":"T","x":-23.49,"y":13.34},{"f":"Summer","r":2021,"p":"T","x":-24.03,"y":12.9},{"f":"Summer","r":2021,"p":"T","x":-23.69,"y":12.63},{"f":"Summer","r":2021,"p":"T","x":-24.46,"y":12.41},{"f":"Summer","r":2021,"p":"T","x":-24.03,"y":12.41},{"f":"Summer","r":2021,"p":"T","x":-23.54,"y":12.36},{"f":"Summer","r":2021,"p":"T","x":-23.16,"y":12.41},{"f":"Summer","r":2021,"p":"T","x":-22.91,"y":12.54},{"f":"Summer","r":2021,"p":"T","x":-22.72,"y":12.36},{"f":"Summer","r":2021,"p":"T","x":-22.77,"y":12.63},{"f":"Summer","r":2021,"p":"T","x":-25.06,"y":12.28},{"f":"Summer","r":2021,"p":"T","x":-25.4,"y":12.14},{"f":"Summer","r":2021,"p":"T","x":-25.25,"y":11.94},{"f":"Summer","r":2021,"p":"T","x":-23.76,"y":11.88},{"f":"Summer","r":2021,"p":"T","x":-24.1,"y":11.72},{"f":"Summer","r":2021,"p":"T","x":-23.14,"y":12.01},{"f":"Summer","r":2021,"p":"T","x":-26.01,"y":11.56},{"f":"Summer","r":2021,"p":"T","x":-22.91,"y":12.94},
{"f":"Autumn","r":2021,"p":"B","x":-25.67,"y":10.66},{"f":"Autumn","r":2021,"p":"B","x":-25.65,"y":9.81},{"f":"Autumn","r":2021,"p":"B","x":-25.29,"y":13.48},{"f":"Autumn","r":2021,"p":"B","x":-25.06,"y":13.41},{"f":"Autumn","r":2021,"p":"B","x":-24.64,"y":13.72},{"f":"Autumn","r":2021,"p":"B","x":-24.61,"y":13.49},{"f":"Autumn","r":2021,"p":"B","x":-24.44,"y":13.32},{"f":"Autumn","r":2021,"p":"B","x":-24.8,"y":13.21},{"f":"Autumn","r":2021,"p":"B","x":-24.67,"y":12.94},{"f":"Autumn","r":2021,"p":"B","x":-24.37,"y":12.72},{"f":"Autumn","r":2021,"p":"B","x":-24.61,"y":12.01},{"f":"Autumn","r":2021,"p":"B","x":-24.46,"y":11.83},{"f":"Autumn","r":2021,"p":"B","x":-24.32,"y":11.88},{"f":"Autumn","r":2021,"p":"B","x":-24.17,"y":11.96},{"f":"Autumn","r":2021,"p":"B","x":-24.61,"y":11.4},{"f":"Autumn","r":2021,"p":"B","x":-24.9,"y":11.4},{"f":"Autumn","r":2021,"p":"B","x":-24.29,"y":11.16},{"f":"Autumn","r":2021,"p":"B","x":-24.39,"y":10.9},{"f":"Autumn","r":2021,"p":"B","x":-23.78,"y":11.12},{"f":"Autumn","r":2021,"p":"B","x":-23.71,"y":10.63},{"f":"Autumn","r":2021,"p":"B","x":-23.38,"y":10.6},{"f":"Autumn","r":2021,"p":"B","x":-23.11,"y":11.08},{"f":"Autumn","r":2021,"p":"B","x":-22.82,"y":11.14},{"f":"Autumn","r":2021,"p":"B","x":-22.67,"y":11.23},{"f":"Autumn","r":2021,"p":"B","x":-22.41,"y":11.08},{"f":"Autumn","r":2021,"p":"B","x":-22.3,"y":11.03},{"f":"Autumn","r":2021,"p":"B","x":-22.09,"y":11.14},{"f":"Autumn","r":2021,"p":"B","x":-22.11,"y":11.52},{"f":"Autumn","r":2021,"p":"B","x":-22.16,"y":11.39},{"f":"Autumn","r":2021,"p":"B","x":-22.35,"y":11.94},{"f":"Autumn","r":2021,"p":"B","x":-22.51,"y":12.29},{"f":"Autumn","r":2021,"p":"B","x":-22.72,"y":12.29},{"f":"Autumn","r":2021,"p":"B","x":-22.53,"y":12.12},{"f":"Autumn","r":2021,"p":"B","x":-22.09,"y":12.23},{"f":"Autumn","r":2021,"p":"B","x":-23.47,"y":12.56},{"f":"Autumn","r":2021,"p":"B","x":-23.3,"y":12.5},{"f":"Autumn","r":2021,"p":"B","x":-23.2,"y":12.32},{"f":"Autumn","r":2021,"p":"B","x":-23.69,"y":12.19},{"f":"Autumn","r":2021,"p":"B","x":-23.59,"y":11.83},{"f":"Autumn","r":2021,"p":"B","x":-23.2,"y":11.83},{"f":"Autumn","r":2021,"p":"B","x":-22.86,"y":11.79},{"f":"Autumn","r":2021,"p":"B","x":-23.88,"y":11.61},{"f":"Autumn","r":2021,"p":"B","x":-23.4,"y":11.52},{"f":"Autumn","r":2021,"p":"B","x":-23.06,"y":11.39},{"f":"Autumn","r":2021,"p":"B","x":-24.03,"y":11.39},
{"f":"Autumn","r":2021,"p":"T","x":-23.9,"y":14.99},{"f":"Autumn","r":2021,"p":"T","x":-25.32,"y":14.57},{"f":"Autumn","r":2021,"p":"T","x":-24.35,"y":14.52},{"f":"Autumn","r":2021,"p":"T","x":-23.62,"y":14.41},{"f":"Autumn","r":2021,"p":"T","x":-24.63,"y":14.3},{"f":"Autumn","r":2021,"p":"T","x":-24.63,"y":14.07},{"f":"Autumn","r":2021,"p":"T","x":-24.14,"y":14.04},{"f":"Autumn","r":2021,"p":"T","x":-24.0,"y":14.1},{"f":"Autumn","r":2021,"p":"T","x":-23.47,"y":14.04},{"f":"Autumn","r":2021,"p":"T","x":-23.42,"y":14.05},{"f":"Autumn","r":2021,"p":"T","x":-23.13,"y":13.89},{"f":"Autumn","r":2021,"p":"T","x":-23.09,"y":13.96},{"f":"Autumn","r":2021,"p":"T","x":-22.43,"y":13.83},{"f":"Autumn","r":2021,"p":"T","x":-22.33,"y":13.61},{"f":"Autumn","r":2021,"p":"T","x":-22.14,"y":13.54},{"f":"Autumn","r":2021,"p":"T","x":-22.38,"y":13.43},{"f":"Autumn","r":2021,"p":"T","x":-22.18,"y":13.39},{"f":"Autumn","r":2021,"p":"T","x":-21.92,"y":13.3},{"f":"Autumn","r":2021,"p":"T","x":-24.63,"y":13.8},{"f":"Autumn","r":2021,"p":"T","x":-25.12,"y":13.46},{"f":"Autumn","r":2021,"p":"T","x":-24.87,"y":13.48},{"f":"Autumn","r":2021,"p":"T","x":-24.61,"y":13.35},{"f":"Autumn","r":2021,"p":"T","x":-23.86,"y":13.52},{"f":"Autumn","r":2021,"p":"T","x":-23.2,"y":13.48},{"f":"Autumn","r":2021,"p":"T","x":-24.17,"y":13.25},{"f":"Autumn","r":2021,"p":"T","x":-22.72,"y":13.25},{"f":"Autumn","r":2021,"p":"T","x":-22.51,"y":13.06},{"f":"Autumn","r":2021,"p":"T","x":-25.38,"y":12.9},{"f":"Autumn","r":2021,"p":"T","x":-24.27,"y":13.08},{"f":"Autumn","r":2021,"p":"T","x":-23.25,"y":13.03},{"f":"Autumn","r":2021,"p":"T","x":-23.35,"y":12.85},{"f":"Autumn","r":2021,"p":"T","x":-24.51,"y":12.65},{"f":"Autumn","r":2021,"p":"T","x":-23.76,"y":12.65},{"f":"Autumn","r":2021,"p":"T","x":-23.35,"y":12.61},{"f":"Autumn","r":2021,"p":"T","x":-22.19,"y":12.65},{"f":"Autumn","r":2021,"p":"T","x":-21.85,"y":12.28},{"f":"Autumn","r":2021,"p":"T","x":-25.09,"y":12.29},{"f":"Autumn","r":2021,"p":"T","x":-25.09,"y":11.9},{"f":"Autumn","r":2021,"p":"T","x":-24.66,"y":11.83},{"f":"Autumn","r":2021,"p":"T","x":-24.99,"y":11.65},{"f":"Autumn","r":2021,"p":"T","x":-24.22,"y":11.58},{"f":"Autumn","r":2021,"p":"T","x":-24.25,"y":11.43},{"f":"Autumn","r":2021,"p":"T","x":-23.35,"y":11.79},{"f":"Autumn","r":2021,"p":"T","x":-23.11,"y":11.63},{"f":"Autumn","r":2021,"p":"T","x":-22.86,"y":11.65},{"f":"Autumn","r":2021,"p":"T","x":-22.48,"y":12.14},{"f":"Autumn","r":2021,"p":"T","x":-23.83,"y":11.88},
{"f":"Spring","r":2022,"p":"B","x":-25.97,"y":10.99},{"f":"Spring","r":2022,"p":"B","x":-25.54,"y":11.31},{"f":"Spring","r":2022,"p":"B","x":-25.15,"y":13.6},{"f":"Spring","r":2022,"p":"B","x":-25.0,"y":13.35},{"f":"Spring","r":2022,"p":"B","x":-24.88,"y":13.2},{"f":"Spring","r":2022,"p":"B","x":-25.03,"y":12.04},{"f":"Spring","r":2022,"p":"B","x":-24.9,"y":12.6},{"f":"Spring","r":2022,"p":"B","x":-24.69,"y":12.62},{"f":"Spring","r":2022,"p":"B","x":-24.5,"y":13.02},{"f":"Spring","r":2022,"p":"B","x":-24.47,"y":13.69},{"f":"Spring","r":2022,"p":"B","x":-24.59,"y":13.16},{"f":"Spring","r":2022,"p":"B","x":-24.3,"y":13.2},{"f":"Spring","r":2022,"p":"B","x":-24.2,"y":13.02},{"f":"Spring","r":2022,"p":"B","x":-24.1,"y":12.89},{"f":"Spring","r":2022,"p":"B","x":-24.4,"y":12.37},{"f":"Spring","r":2022,"p":"B","x":-24.1,"y":12.4},{"f":"Spring","r":2022,"p":"B","x":-23.91,"y":12.62},{"f":"Spring","r":2022,"p":"B","x":-23.72,"y":12.49},{"f":"Spring","r":2022,"p":"B","x":-23.47,"y":12.71},{"f":"Spring","r":2022,"p":"B","x":-23.33,"y":12.18},{"f":"Spring","r":2022,"p":"B","x":-22.88,"y":13.62},{"f":"Spring","r":2022,"p":"B","x":-22.84,"y":13.51},{"f":"Spring","r":2022,"p":"B","x":-22.7,"y":13.02},{"f":"Spring","r":2022,"p":"B","x":-22.57,"y":13.51},{"f":"Spring","r":2022,"p":"B","x":-22.55,"y":12.4},{"f":"Spring","r":2022,"p":"B","x":-22.43,"y":12.09},{"f":"Spring","r":2022,"p":"B","x":-22.41,"y":12.8},{"f":"Spring","r":2022,"p":"B","x":-22.26,"y":12.89},{"f":"Spring","r":2022,"p":"B","x":-22.28,"y":12.67},{"f":"Spring","r":2022,"p":"B","x":-22.19,"y":11.91},{"f":"Spring","r":2022,"p":"B","x":-22.15,"y":12.58},{"f":"Spring","r":2022,"p":"B","x":-22.09,"y":13.02},{"f":"Spring","r":2022,"p":"B","x":-22.07,"y":12.09},{"f":"Spring","r":2022,"p":"B","x":-21.92,"y":13.2},{"f":"Spring","r":2022,"p":"B","x":-21.92,"y":12.09},{"f":"Spring","r":2022,"p":"B","x":-21.78,"y":13.02},{"f":"Spring","r":2022,"p":"B","x":-21.7,"y":13.02},{"f":"Spring","r":2022,"p":"B","x":-21.66,"y":12.27},{"f":"Spring","r":2022,"p":"B","x":-22.46,"y":12.89},{"f":"Spring","r":2022,"p":"B","x":-22.6,"y":12.44},{"f":"Spring","r":2022,"p":"B","x":-22.99,"y":12.71},{"f":"Spring","r":2022,"p":"B","x":-23.28,"y":12.49},{"f":"Spring","r":2022,"p":"B","x":-23.72,"y":13.07},{"f":"Spring","r":2022,"p":"B","x":-24.3,"y":12.13},
{"f":"Spring","r":2022,"p":"T","x":-25.12,"y":14.77},{"f":"Spring","r":2022,"p":"T","x":-25.05,"y":14.6},{"f":"Spring","r":2022,"p":"T","x":-24.64,"y":14.42},{"f":"Spring","r":2022,"p":"T","x":-24.42,"y":14.03},{"f":"Spring","r":2022,"p":"T","x":-24.64,"y":13.91},{"f":"Spring","r":2022,"p":"T","x":-24.69,"y":13.73},{"f":"Spring","r":2022,"p":"T","x":-24.5,"y":13.71},{"f":"Spring","r":2022,"p":"T","x":-25.17,"y":14.04},{"f":"Spring","r":2022,"p":"T","x":-25.41,"y":13.58},{"f":"Spring","r":2022,"p":"T","x":-25.19,"y":13.35},{"f":"Spring","r":2022,"p":"T","x":-25.61,"y":13.02},{"f":"Spring","r":2022,"p":"T","x":-25.36,"y":13.16},{"f":"Spring","r":2022,"p":"T","x":-25.17,"y":13.07},{"f":"Spring","r":2022,"p":"T","x":-25.19,"y":12.67},{"f":"Spring","r":2022,"p":"T","x":-24.88,"y":13.47},{"f":"Spring","r":2022,"p":"T","x":-24.2,"y":13.53},{"f":"Spring","r":2022,"p":"T","x":-23.83,"y":13.4},{"f":"Spring","r":2022,"p":"T","x":-23.35,"y":13.38},{"f":"Spring","r":2022,"p":"T","x":-22.83,"y":13.67},{"f":"Spring","r":2022,"p":"T","x":-22.85,"y":13.49},{"f":"Spring","r":2022,"p":"T","x":-22.75,"y":13.26},{"f":"Spring","r":2022,"p":"T","x":-22.44,"y":13.33},{"f":"Spring","r":2022,"p":"T","x":-22.36,"y":13.08},{"f":"Spring","r":2022,"p":"T","x":-22.67,"y":13.16},{"f":"Spring","r":2022,"p":"T","x":-24.71,"y":12.0},{"f":"Spring","r":2022,"p":"T","x":-24.44,"y":12.22},{"f":"Spring","r":2022,"p":"T","x":-24.3,"y":12.07},{"f":"Spring","r":2022,"p":"T","x":-23.81,"y":12.04},{"f":"Spring","r":2022,"p":"T","x":-23.52,"y":11.91},{"f":"Spring","r":2022,"p":"T","x":-23.86,"y":11.6},{"f":"Spring","r":2022,"p":"T","x":-24.49,"y":11.69},{"f":"Spring","r":2022,"p":"T","x":-24.73,"y":11.91},{"f":"Spring","r":2022,"p":"T","x":-25.12,"y":11.82},{"f":"Spring","r":2022,"p":"T","x":-25.53,"y":11.71},{"f":"Spring","r":2022,"p":"T","x":-25.32,"y":11.56},{"f":"Spring","r":2022,"p":"T","x":-25.07,"y":11.48},{"f":"Spring","r":2022,"p":"T","x":-25.61,"y":11.09},{"f":"Spring","r":2022,"p":"T","x":-26.16,"y":11.09},{"f":"Spring","r":2022,"p":"T","x":-22.67,"y":11.4},{"f":"Spring","r":2022,"p":"T","x":-22.24,"y":11.6},{"f":"Spring","r":2022,"p":"T","x":-21.78,"y":12.49},{"f":"Spring","r":2022,"p":"T","x":-22.94,"y":12.22},{"f":"Spring","r":2022,"p":"T","x":-22.7,"y":12.13},{"f":"Spring","r":2022,"p":"T","x":-23.33,"y":12.4},{"f":"Spring","r":2022,"p":"T","x":-23.52,"y":12.98},{"f":"Spring","r":2022,"p":"T","x":-24.01,"y":12.8},
{"f":"Summer","r":2022,"p":"B","x":-27.92,"y":10.6},{"f":"Summer","r":2022,"p":"B","x":-26.16,"y":11.29},{"f":"Summer","r":2022,"p":"B","x":-25.5,"y":14.28},{"f":"Summer","r":2022,"p":"B","x":-24.85,"y":11.45},{"f":"Summer","r":2022,"p":"B","x":-23.42,"y":11.64},{"f":"Summer","r":2022,"p":"B","x":-23.59,"y":15.1},{"f":"Summer","r":2022,"p":"B","x":-22.17,"y":14.98},{"f":"Summer","r":2022,"p":"B","x":-23.2,"y":14.71},{"f":"Summer","r":2022,"p":"B","x":-22.98,"y":14.67},{"f":"Summer","r":2022,"p":"B","x":-22.84,"y":14.74},{"f":"Summer","r":2022,"p":"B","x":-23.2,"y":14.58},{"f":"Summer","r":2022,"p":"B","x":-24.09,"y":14.55},{"f":"Summer","r":2022,"p":"B","x":-23.9,"y":14.36},{"f":"Summer","r":2022,"p":"B","x":-24.14,"y":14.13},{"f":"Summer","r":2022,"p":"B","x":-24.24,"y":14.03},{"f":"Summer","r":2022,"p":"B","x":-23.64,"y":14.13},{"f":"Summer","r":2022,"p":"B","x":-23.3,"y":14.29},{"f":"Summer","r":2022,"p":"B","x":-22.98,"y":14.33},{"f":"Summer","r":2022,"p":"B","x":-22.93,"y":14.04},{"f":"Summer","r":2022,"p":"B","x":-22.74,"y":14.13},{"f":"Summer","r":2022,"p":"B","x":-22.5,"y":14.04},{"f":"Summer","r":2022,"p":"B","x":-22.19,"y":14.31},{"f":"Summer","r":2022,"p":"B","x":-21.9,"y":14.13},{"f":"Summer","r":2022,"p":"B","x":-21.8,"y":14.27},{"f":"Summer","r":2022,"p":"B","x":-23.62,"y":13.82},{"f":"Summer","r":2022,"p":"B","x":-23.11,"y":13.82},{"f":"Summer","r":2022,"p":"B","x":-22.77,"y":13.82},{"f":"Summer","r":2022,"p":"B","x":-22.23,"y":13.91},{"f":"Summer","r":2022,"p":"B","x":-21.99,"y":13.73},{"f":"Summer","r":2022,"p":"B","x":-21.46,"y":13.82},{"f":"Summer","r":2022,"p":"B","x":-21.39,"y":13.69},{"f":"Summer","r":2022,"p":"B","x":-21.27,"y":13.6},{"f":"Summer","r":2022,"p":"B","x":-21.12,"y":13.56},{"f":"Summer","r":2022,"p":"B","x":-20.88,"y":13.56},{"f":"Summer","r":2022,"p":"B","x":-21.15,"y":13.38},{"f":"Summer","r":2022,"p":"B","x":-21.43,"y":13.38},{"f":"Summer","r":2022,"p":"B","x":-21.7,"y":13.33},{"f":"Summer","r":2022,"p":"B","x":-21.65,"y":13.11},{"f":"Summer","r":2022,"p":"B","x":-20.93,"y":13.23},{"f":"Summer","r":2022,"p":"B","x":-22.07,"y":12.58},{"f":"Summer","r":2022,"p":"B","x":-23.56,"y":13.08},{"f":"Summer","r":2022,"p":"B","x":-24.59,"y":13.53},{"f":"Summer","r":2022,"p":"B","x":-22.57,"y":13.42},{"f":"Summer","r":2022,"p":"B","x":-22.42,"y":13.69},
{"f":"Summer","r":2022,"p":"T","x":-25.58,"y":10.93},{"f":"Summer","r":2022,"p":"T","x":-25.45,"y":11.36},{"f":"Summer","r":2022,"p":"T","x":-25.38,"y":11.75},{"f":"Summer","r":2022,"p":"T","x":-25.36,"y":12.0},{"f":"Summer","r":2022,"p":"T","x":-25.14,"y":11.63},{"f":"Summer","r":2022,"p":"T","x":-24.95,"y":11.58},{"f":"Summer","r":2022,"p":"T","x":-24.1,"y":11.96},{"f":"Summer","r":2022,"p":"T","x":-25.45,"y":13.07},{"f":"Summer","r":2022,"p":"T","x":-25.14,"y":13.2},{"f":"Summer","r":2022,"p":"T","x":-24.92,"y":13.02},{"f":"Summer","r":2022,"p":"T","x":-24.66,"y":12.93},{"f":"Summer","r":2022,"p":"T","x":-24.61,"y":12.67},{"f":"Summer","r":2022,"p":"T","x":-24.39,"y":12.55},{"f":"Summer","r":2022,"p":"T","x":-24.14,"y":12.52},{"f":"Summer","r":2022,"p":"T","x":-23.93,"y":12.27},{"f":"Summer","r":2022,"p":"T","x":-24.41,"y":13.4},{"f":"Summer","r":2022,"p":"T","x":-25.02,"y":13.78},{"f":"Summer","r":2022,"p":"T","x":-24.37,"y":13.88},{"f":"Summer","r":2022,"p":"T","x":-24.03,"y":13.69},{"f":"Summer","r":2022,"p":"T","x":-23.85,"y":13.64},{"f":"Summer","r":2022,"p":"T","x":-23.74,"y":13.58},{"f":"Summer","r":2022,"p":"T","x":-23.78,"y":14.31},{"f":"Summer","r":2022,"p":"T","x":-23.64,"y":14.27},{"f":"Summer","r":2022,"p":"T","x":-23.51,"y":14.0},{"f":"Summer","r":2022,"p":"T","x":-23.27,"y":13.24},{"f":"Summer","r":2022,"p":"T","x":-23.69,"y":12.71},{"f":"Summer","r":2022,"p":"T","x":-23.88,"y":12.8},{"f":"Summer","r":2022,"p":"T","x":-23.3,"y":13.11},{"f":"Summer","r":2022,"p":"T","x":-23.11,"y":13.0},{"f":"Summer","r":2022,"p":"T","x":-22.96,"y":12.98},{"f":"Summer","r":2022,"p":"T","x":-23.27,"y":12.27},{"f":"Summer","r":2022,"p":"T","x":-23.16,"y":12.4},{"f":"Summer","r":2022,"p":"T","x":-22.77,"y":12.49},{"f":"Summer","r":2022,"p":"T","x":-22.46,"y":12.51},{"f":"Summer","r":2022,"p":"T","x":-22.38,"y":12.49},{"f":"Summer","r":2022,"p":"T","x":-22.67,"y":13.78},{"f":"Summer","r":2022,"p":"T","x":-22.38,"y":13.69},{"f":"Summer","r":2022,"p":"T","x":-21.94,"y":13.64},{"f":"Summer","r":2022,"p":"T","x":-21.94,"y":12.73},{"f":"Summer","r":2022,"p":"T","x":-21.75,"y":12.55},{"f":"Summer","r":2022,"p":"T","x":-21.31,"y":13.24},{"f":"Summer","r":2022,"p":"T","x":-21.28,"y":13.0},{"f":"Summer","r":2022,"p":"T","x":-22.84,"y":13.16},{"f":"Summer","r":2022,"p":"T","x":-23.54,"y":12.93},
{"f":"Autumn","r":2022,"p":"B","x":-25.66,"y":11.51},{"f":"Autumn","r":2022,"p":"B","x":-23.54,"y":11.17},{"f":"Autumn","r":2022,"p":"B","x":-23.74,"y":11.63},{"f":"Autumn","r":2022,"p":"B","x":-24.1,"y":11.87},{"f":"Autumn","r":2022,"p":"B","x":-23.62,"y":12.07},{"f":"Autumn","r":2022,"p":"B","x":-23.54,"y":12.53},{"f":"Autumn","r":2022,"p":"B","x":-22.77,"y":14.29},{"f":"Autumn","r":2022,"p":"B","x":-22.43,"y":13.97},{"f":"Autumn","r":2022,"p":"B","x":-22.43,"y":13.58},{"f":"Autumn","r":2022,"p":"B","x":-22.02,"y":13.67},{"f":"Autumn","r":2022,"p":"B","x":-21.99,"y":13.58},{"f":"Autumn","r":2022,"p":"B","x":-22.91,"y":12.76},{"f":"Autumn","r":2022,"p":"B","x":-22.86,"y":12.28},{"f":"Autumn","r":2022,"p":"B","x":-22.23,"y":11.57},{"f":"Autumn","r":2022,"p":"B","x":-21.87,"y":11.4},{"f":"Autumn","r":2022,"p":"B","x":-21.7,"y":11.46},{"f":"Autumn","r":2022,"p":"B","x":-21.56,"y":11.63},{"f":"Autumn","r":2022,"p":"B","x":-21.46,"y":11.54},{"f":"Autumn","r":2022,"p":"B","x":-21.58,"y":11.75},{"f":"Autumn","r":2022,"p":"B","x":-21.07,"y":11.89},{"f":"Autumn","r":2022,"p":"B","x":-21.09,"y":11.35},{"f":"Autumn","r":2022,"p":"B","x":-20.78,"y":11.48},{"f":"Autumn","r":2022,"p":"B","x":-20.66,"y":11.56},{"f":"Autumn","r":2022,"p":"B","x":-20.68,"y":11.87},{"f":"Autumn","r":2022,"p":"B","x":-20.57,"y":12.0},{"f":"Autumn","r":2022,"p":"B","x":-20.47,"y":11.76},{"f":"Autumn","r":2022,"p":"B","x":-20.54,"y":12.4},{"f":"Autumn","r":2022,"p":"B","x":-20.44,"y":12.13},{"f":"Autumn","r":2022,"p":"B","x":-20.36,"y":12.13},{"f":"Autumn","r":2022,"p":"B","x":-20.22,"y":12.82},{"f":"Autumn","r":2022,"p":"B","x":-19.96,"y":12.89},{"f":"Autumn","r":2022,"p":"B","x":-20.68,"y":12.87},{"f":"Autumn","r":2022,"p":"B","x":-20.93,"y":12.62},{"f":"Autumn","r":2022,"p":"B","x":-21.17,"y":12.28},{"f":"Autumn","r":2022,"p":"B","x":-21.36,"y":12.49},{"f":"Autumn","r":2022,"p":"B","x":-21.07,"y":13.4},{"f":"Autumn","r":2022,"p":"B","x":-20.98,"y":13.33},{"f":"Autumn","r":2022,"p":"B","x":-21.27,"y":12.93},{"f":"Autumn","r":2022,"p":"B","x":-21.65,"y":13.07},{"f":"Autumn","r":2022,"p":"B","x":-22.43,"y":13.07},{"f":"Autumn","r":2022,"p":"B","x":-22.14,"y":12.71},{"f":"Autumn","r":2022,"p":"B","x":-21.75,"y":12.4},{"f":"Autumn","r":2022,"p":"B","x":-21.51,"y":12.22},
{"f":"Autumn","r":2022,"p":"T","x":-23.9,"y":14.0},{"f":"Autumn","r":2022,"p":"T","x":-24.25,"y":13.69},{"f":"Autumn","r":2022,"p":"T","x":-23.69,"y":13.76},{"f":"Autumn","r":2022,"p":"T","x":-23.64,"y":13.56},{"f":"Autumn","r":2022,"p":"T","x":-23.51,"y":13.62},{"f":"Autumn","r":2022,"p":"T","x":-24.17,"y":13.33},{"f":"Autumn","r":2022,"p":"T","x":-24.03,"y":13.24},{"f":"Autumn","r":2022,"p":"T","x":-24.2,"y":13.2},{"f":"Autumn","r":2022,"p":"T","x":-23.74,"y":13.22},{"f":"Autumn","r":2022,"p":"T","x":-23.59,"y":13.38},{"f":"Autumn","r":2022,"p":"T","x":-23.45,"y":13.29},{"f":"Autumn","r":2022,"p":"T","x":-24.14,"y":12.6},{"f":"Autumn","r":2022,"p":"T","x":-23.83,"y":12.69},{"f":"Autumn","r":2022,"p":"T","x":-23.64,"y":12.67},{"f":"Autumn","r":2022,"p":"T","x":-23.4,"y":12.84},{"f":"Autumn","r":2022,"p":"T","x":-23.16,"y":12.31},{"f":"Autumn","r":2022,"p":"T","x":-23.16,"y":11.91},{"f":"Autumn","r":2022,"p":"T","x":-22.72,"y":12.22},{"f":"Autumn","r":2022,"p":"T","x":-22.62,"y":12.0},{"f":"Autumn","r":2022,"p":"T","x":-22.57,"y":11.84},{"f":"Autumn","r":2022,"p":"T","x":-22.77,"y":13.82},{"f":"Autumn","r":2022,"p":"T","x":-22.57,"y":13.93},{"f":"Autumn","r":2022,"p":"T","x":-21.96,"y":13.88},{"f":"Autumn","r":2022,"p":"T","x":-21.89,"y":13.64},{"f":"Autumn","r":2022,"p":"T","x":-21.48,"y":13.67},{"f":"Autumn","r":2022,"p":"T","x":-21.19,"y":14.0},{"f":"Autumn","r":2022,"p":"T","x":-21.22,"y":13.33},{"f":"Autumn","r":2022,"p":"T","x":-21.02,"y":13.44},{"f":"Autumn","r":2022,"p":"T","x":-20.73,"y":13.29},{"f":"Autumn","r":2022,"p":"T","x":-20.59,"y":12.78},{"f":"Autumn","r":2022,"p":"T","x":-23.16,"y":12.89},{"f":"Autumn","r":2022,"p":"T","x":-22.62,"y":13.2},{"f":"Autumn","r":2022,"p":"T","x":-22.23,"y":12.98},{"f":"Autumn","r":2022,"p":"T","x":-22.04,"y":12.8},{"f":"Autumn","r":2022,"p":"T","x":-21.75,"y":12.53},{"f":"Autumn","r":2022,"p":"T","x":-21.46,"y":12.22},{"f":"Autumn","r":2022,"p":"T","x":-21.12,"y":12.84},{"f":"Autumn","r":2022,"p":"T","x":-23.06,"y":12.6},{"f":"Autumn","r":2022,"p":"T","x":-22.57,"y":12.44},{"f":"Autumn","r":2022,"p":"T","x":-20.83,"y":12.04},{"f":"Autumn","r":2022,"p":"T","x":-20.98,"y":13.07}
]},
"facet":{
 "column":{"field":"f","type":"nominal","sort":["Spring","Summer","Autumn"],"title":"δ¹³C (‰)",
  "header":{"labelOrient":"top","titleOrient":"bottom","labelFontSize":19,"titleFontSize":19,"titleFontWeight":"normal","labelPadding":3,"titlePadding":0,"labelColor":"#111","titleColor":"#111"}},
 "row":{"field":"r","type":"ordinal","title":"δ¹⁵N (‰)",
  "header":{"labelOrient":"right","titleOrient":"left","labelAngle":90,"labelFontSize":19,"titleFontSize":19,"titleFontWeight":"normal","labelPadding":2,"titlePadding":4,"labelColor":"#111","titleColor":"#111"}}
},
"spacing":{"row":6,"column":4},
"spec":{
 "width":319,"height":227,
 "encoding":{
  "x":{"field":"x","type":"quantitative","title":null,"scale":{"domain":[-28.38,-19.13],"nice":false,"zero":false},
   "axis":{"values":[-28,-27,-26,-25,-24,-23,-22,-21,-20],"labelExpr":"datum.value % 2 == 0 ? '' + datum.value : ''","gridColor":{"condition":{"test":"datum.value % 2 == 0","value":"transparent"},"value":"#ececec"}}},
  "y":{"field":"y","type":"quantitative","title":null,"scale":{"domain":[9.41,15.47],"nice":false,"zero":false},
   "axis":{"values":[10,11,12,13,14,15],"labelExpr":"datum.value % 2 == 0 ? '' + datum.value : ''","gridColor":"#ececec"}}
 },
 "layer":[
  {"transform":[{"filter":"!datum.k && datum.p=='B'"}],
   "mark":{"type":"point","shape":"circle","filled":false,"size":55,"strokeWidth":1,"opacity":0.72},
   "encoding":{
    "stroke":{"field":"p","type":"nominal","scale":{"domain":["B","T"],"range":["#E66100","#12979B"]}}}},
  {"transform":[{"filter":"!datum.k && datum.p=='T'"}],
   "mark":{"type":"point","shape":"triangle-up","filled":false,"size":55,"strokeWidth":1,"opacity":0.72},
   "encoding":{
    "stroke":{"field":"p","type":"nominal"}}},
  {"transform":[{"filter":"datum.k=='d'"}],
   "mark":{"type":"line","interpolate":"cardinal-closed","strokeWidth":2.2,"strokeDash":[8,5]},
   "encoding":{
    "stroke":{"field":"p","type":"nominal"},
    "order":{"field":"o","type":"quantitative"}}},
  {"transform":[{"filter":"datum.k=='e'"}],
   "mark":{"type":"line","interpolate":"cardinal-closed","strokeWidth":2.8,"fillOpacity":0.45},
   "encoding":{
    "stroke":{"field":"p","type":"nominal",
     "legend":{"title":null,"orient":"none","legendX":340,"legendY":538,"direction":"horizontal","symbolType":"square","symbolSize":200,"symbolStrokeWidth":2.5,"symbolDash":[],"symbolOpacity":1,"labelFontSize":19,"labelColor":"#111","columnPadding":8,"labelOffset":16,"labelExpr":"datum.value == 'B' ? 'Brown trout' : 'Mottled sculpin'"}},
    "fill":{"field":"p","type":"nominal","scale":{"domain":["B","T"],"range":["#FCB35E","#62C3C8"]},
     "legend":{"title":null,"orient":"none","legendX":340,"legendY":538,"direction":"horizontal","symbolType":"square","symbolSize":200,"symbolStrokeWidth":2.5,"symbolDash":[],"symbolOpacity":1,"labelFontSize":19,"labelColor":"#111","columnPadding":8,"labelOffset":16,"labelExpr":"datum.value == 'B' ? 'Brown trout' : 'Mottled sculpin'"}},
    "order":{"field":"o","type":"quantitative"}}}
 ]
},
"config":{
 "font":"Roboto",
 "view":{"stroke":null},
 "axis":{"domain":false,"ticks":false,"labelFontSize":19,"labelColor":"#222","labelPadding":5}
}
}
